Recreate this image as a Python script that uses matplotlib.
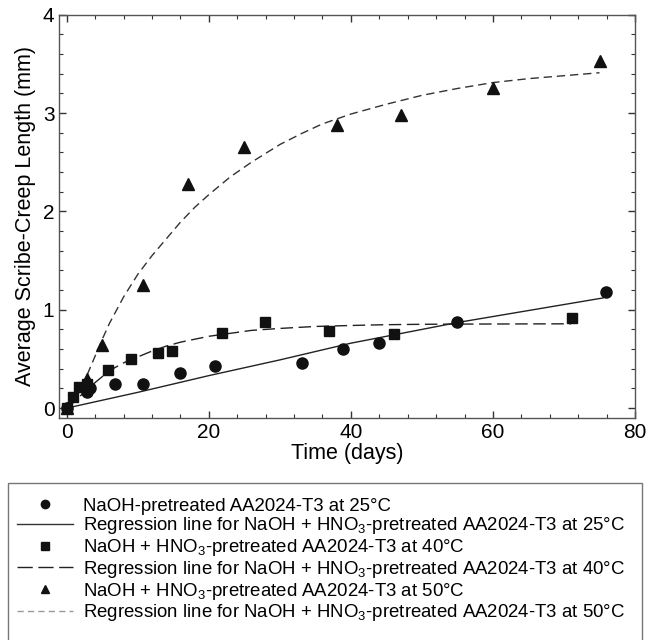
#!/usr/bin/env python
"""Scribe-creep length vs. exposure time for pretreated AA2024-T3."""

from __future__ import annotations

import matplotlib

matplotlib.use("Agg")
import matplotlib.pyplot as plt
from matplotlib.lines import Line2D
from matplotlib.patches import Rectangle
from matplotlib.ticker import MultipleLocator


DAYS_25C = [0.0, 2.8, 3.3, 6.8, 10.7, 15.9, 20.8, 33.1, 38.9, 43.9, 54.9, 75.9]
CREEP_25C = [0.0, 0.16, 0.20, 0.24, 0.24, 0.36, 0.43, 0.46, 0.60, 0.66, 0.88, 1.18]

DAYS_40C = [0.0, 0.9, 1.7, 2.8, 5.8, 9.0, 12.8, 14.8, 21.9, 27.9, 36.9, 46.0, 71.1]
CREEP_40C = [0.0, 0.11, 0.21, 0.25, 0.39, 0.50, 0.56, 0.58, 0.76, 0.88, 0.78, 0.75, 0.92]

DAYS_50C = [0.0, 2.8, 4.9, 10.8, 17.0, 24.9, 38.0, 47.0, 60.0, 75.0]
CREEP_50C = [0.0, 0.30, 0.64, 1.25, 2.28, 2.65, 2.88, 2.98, 3.25, 3.53]

# regression curves, sampled off the figure
FIT_DAYS_25C = [0.0, 10.0, 20.0, 30.0, 40.0, 55.0, 75.5]
FIT_CREEP_25C = [0.0, 0.16, 0.33, 0.49, 0.66, 0.87, 1.12]

FIT_DAYS_40C = [0.0, 1.0, 2.0, 3.0, 4.0, 6.0, 8.0, 10.0, 12.0, 14.0, 16.0, 18.0,
                20.0, 23.0, 26.0, 30.0, 35.0, 40.0, 45.0, 50.0, 55.0, 60.0, 65.0, 71.0]
FIT_CREEP_40C = [0.0, 0.06, 0.13, 0.20, 0.26, 0.38, 0.46, 0.52, 0.58, 0.63, 0.67, 0.70,
                 0.73, 0.76, 0.79, 0.81, 0.83, 0.84, 0.848, 0.852, 0.854, 0.855, 0.856, 0.857]

FIT_DAYS_50C = [0.0, 1.0, 2.0, 3.0, 4.0, 5.0, 6.0, 8.0, 10.0, 12.0, 14.0, 16.0, 18.0,
                20.0, 23.0, 26.0, 30.0, 33.0, 36.0, 40.0, 45.0, 50.0, 55.0, 60.0,
                65.0, 70.0, 75.0]
FIT_CREEP_50C = [0.0, 0.09, 0.19, 0.36, 0.53, 0.70, 0.86, 1.13, 1.36, 1.55, 1.72, 1.89,
                 2.04, 2.17, 2.35, 2.50, 2.68, 2.79, 2.89, 2.99, 3.09, 3.18, 3.25, 3.31,
                 3.35, 3.38, 3.41]

LEGEND_LABELS = [
    "NaOH-pretreated AA2024-T3 at 25°C",
    "Regression line for NaOH + HNO$_3$-pretreated AA2024-T3 at 25°C",
    "NaOH + HNO$_3$-pretreated AA2024-T3 at 40°C",
    "Regression line for NaOH + HNO$_3$-pretreated AA2024-T3 at 40°C",
    "NaOH + HNO$_3$-pretreated AA2024-T3 at 50°C",
    "Regression line for NaOH + HNO$_3$-pretreated AA2024-T3 at 50°C",
]


def main() -> int:
    plt.rcParams["font.family"] = ["Liberation Sans", "DejaVu Sans"]
    plt.rcParams["mathtext.default"] = "regular"

    fig = plt.figure(figsize=(6.48, 6.40), dpi=100)
    ax = fig.add_axes((0.0915, 0.347, 0.8885, 0.630))

    ax.plot(FIT_DAYS_25C, FIT_CREEP_25C, color="#222222", linewidth=1.0)
    ax.plot(FIT_DAYS_40C, FIT_CREEP_40C, color="#222222", linewidth=1.0,
            dashes=(9, 4))
    ax.plot(FIT_DAYS_50C, FIT_CREEP_50C, color="#333333", linewidth=1.0,
            dashes=(6, 3.5))

    ax.plot(DAYS_25C, CREEP_25C, "o", color="#111111", markersize=8, zorder=3)
    ax.plot(DAYS_40C, CREEP_40C, "s", color="#111111", markersize=7, zorder=3)
    ax.plot(DAYS_50C, CREEP_50C, "^", color="#111111", markersize=8, zorder=3)

    ax.set_xlim(-1.05, 80)
    ax.set_ylim(-0.1, 4)
    ax.xaxis.set_major_locator(MultipleLocator(20))
    ax.xaxis.set_minor_locator(MultipleLocator(4))
    ax.yaxis.set_major_locator(MultipleLocator(1))
    ax.yaxis.set_minor_locator(MultipleLocator(0.2))
    ax.tick_params(which="both", direction="in", top=True, right=True,
                   color="#333333", labelsize=15)
    ax.tick_params(which="major", length=5, width=1.0)
    ax.tick_params(which="minor", length=3, width=0.8)
    for spine in ax.spines.values():
        spine.set_color("#555555")
        spine.set_linewidth(1.0)

    ax.set_xlabel("Time (days)", fontsize=15.5, labelpad=1)
    ax.set_ylabel("Average Scribe-Creep Length (mm)", fontsize=15.5, labelpad=5)

    handles = [
        Line2D([], [], linestyle="none", marker="o", markersize=6, color="#111111"),
        Line2D([], [], color="#333333", linewidth=1.0),
        Line2D([], [], linestyle="none", marker="s", markersize=5.5, color="#111111"),
        Line2D([], [], color="#222222", linewidth=1.0, dashes=(11, 4)),
        Line2D([], [], linestyle="none", marker="^", markersize=6, color="#111111"),
        Line2D([], [], color="#999999", linewidth=1.0, dashes=(4.5, 3)),
    ]
    fig.legend(
        handles,
        LEGEND_LABELS,
        loc="upper left",
        bbox_to_anchor=(0.012, -0.02, 0.978, 0.257),
        mode="expand",
        fontsize=13.4,
        handlelength=3.0,
        handletextpad=0.55,
        labelspacing=0.04,
        borderpad=0.5,
        borderaxespad=0.0,
        frameon=False,
    )
    # legend frame runs off the bottom of the figure
    fig.add_artist(Rectangle((8 / 648, -0.01), 634 / 648, 1 - 483 / 640 + 0.01,
                             transform=fig.transFigure, facecolor="none",
                             edgecolor="#777777", linewidth=1.0))

    fig.savefig("out.png", dpi=100)
    plt.close(fig)
    return 0


if __name__ == "__main__":
    raise SystemExit(main())
